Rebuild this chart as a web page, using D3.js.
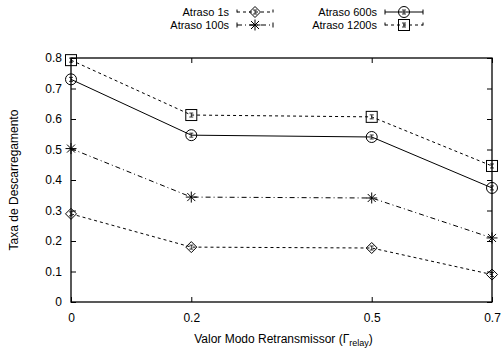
<!DOCTYPE html>
<html>
<head>
<meta charset="utf-8">
<script src="https://cdn.jsdelivr.net/npm/d3@7"></script>
<style>
  body { margin: 0; background: #fff; }
  svg { font-family: "Liberation Sans", Arial, sans-serif; }
</style>
</head>
<body>
<svg id="chart" width="504" height="351"></svg>
<script>
// chart data
const xValues = [0, 0.2, 0.5, 0.7];
const xTicks = [0, 0.2, 0.5, 0.7];
const yTicks = [0, 0.1, 0.2, 0.3, 0.4, 0.5, 0.6, 0.7, 0.8];
const seriesNames = ['Atraso 1s', 'Atraso 100s', 'Atraso 600s', 'Atraso 1200s'];
const atraso1s = [0.289, 0.180, 0.177, 0.090];
const atraso100s = [0.503, 0.344, 0.341, 0.210];
const atraso600s = [0.730, 0.547, 0.541, 0.374];
const atraso1200s = [0.793, 0.613, 0.607, 0.446];

const styles = [
    {dash: '3,3', marker: 'diamond'},
    {dash: '5,3,1,3', marker: 'star'},
    {dash: null, marker: 'circle'},
    {dash: '3,3', marker: 'square'}
];
const allSeries = [atraso1s, atraso100s, atraso600s, atraso1200s];

const svg = d3.select('#chart');
const margin = {left: 71, right: 12, top: 58, bottom: 49};
const W = 504, H = 351;

const xScale = d3.scaleLinear().domain([0, 0.7]).range([margin.left, W - margin.right]);
const yScale = d3.scaleLinear().domain([0, 0.8]).range([H - margin.bottom, margin.top]);

function drawMarker(g, type, x, y) {
    const m = g.append('g').attr('transform', `translate(${x},${y})`)
        .attr('fill', 'none').attr('stroke', '#000').attr('stroke-width', 1);
    if (type === 'diamond') {
        m.append('path').attr('d', 'M0,-5.5L5.5,0L0,5.5L-5.5,0Z');
    } else if (type === 'circle') {
        m.append('circle').attr('r', 5.5);
    } else if (type === 'square') {
        m.append('rect').attr('x', -5.5).attr('y', -5.5).attr('width', 11).attr('height', 11);
    } else if (type === 'star') {
        m.append('path').attr('d', 'M-5.5,0H5.5M0,-5.5V5.5M-4,-4L4,4M-4,4L4,-4');
    }
    // tiny error bar
    if (type !== 'star') {
        m.append('path').attr('d', 'M0,-2V2M-2,-2H2M-2,2H2').attr('stroke-width', 0.8);
    }
}

// frame
svg.append('rect')
    .attr('x', margin.left).attr('y', margin.top)
    .attr('width', W - margin.left - margin.right)
    .attr('height', H - margin.top - margin.bottom)
    .attr('fill', 'none').attr('stroke', '#000').attr('stroke-width', 1.3);

const tickLen = 5;
const axisLeft = d3.axisLeft(yScale).tickValues(yTicks).tickSize(-tickLen).tickPadding(9)
    .tickFormat(d => d === 0 ? '0' : d3.format('.1f')(d));
const axisRight = d3.axisRight(yScale).tickValues(yTicks).tickSize(-tickLen).tickFormat('');
const axisBottom = d3.axisBottom(xScale).tickValues(xTicks).tickSize(-tickLen).tickPadding(11)
    .tickFormat(d => d === 0 ? '0' : d3.format('.1f')(d));
const axisTop = d3.axisTop(xScale).tickValues(xTicks).tickSize(-tickLen).tickFormat('');

function styleAxis(g) {
    g.select('.domain').remove();
    g.selectAll('.tick line').attr('stroke', '#000');
    g.selectAll('.tick text').attr('font-size', 12).attr('fill', '#000')
        .attr('font-family', '"Liberation Sans", Arial, sans-serif');
}

svg.append('g').attr('transform', `translate(${margin.left},0)`).call(axisLeft).call(styleAxis);
svg.append('g').attr('transform', `translate(${W - margin.right},0)`).call(axisRight).call(styleAxis);
svg.append('g').attr('transform', `translate(0,${H - margin.bottom})`).call(axisBottom).call(styleAxis);
svg.append('g').attr('transform', `translate(0,${margin.top})`).call(axisTop).call(styleAxis);

// axis labels
svg.append('text')
    .attr('transform', `translate(18,${(margin.top + H - margin.bottom) / 2}) rotate(-90)`)
    .attr('text-anchor', 'middle').attr('font-size', 12)
    .text('Taxa de Descarregamento');

const xl = svg.append('text')
    .attr('x', (margin.left + W - margin.right) / 2 + 2).attr('y', 343)
    .attr('text-anchor', 'middle').attr('font-size', 12);
xl.append('tspan').text('Valor Modo Retransmissor (\u0393');
xl.append('tspan').attr('font-size', 9).attr('dy', 3).text('relay');
xl.append('tspan').attr('dy', -3).text(')');

// lines and points
const line = d3.line().x((d, i) => xScale(xValues[i])).y(d => yScale(d));
const plot = svg.append('g');
allSeries.forEach((vals, si) => {
    const p = plot.append('path')
        .datum(vals)
        .attr('d', line)
        .attr('fill', 'none')
        .attr('stroke', '#000')
        .attr('stroke-width', 1);
    if (styles[si].dash) p.attr('stroke-dasharray', styles[si].dash);
    vals.forEach((v, i) => drawMarker(plot, styles[si].marker, xScale(xValues[i]), yScale(v)));
});

// legend
const legendPos = [
    {textX: 229, x1: 237, x2: 273, y: 12},
    {textX: 229, x1: 237, x2: 273, y: 25},
    {textX: 377, x1: 385, x2: 423, y: 12},
    {textX: 377, x1: 385, x2: 423, y: 25}
];
seriesNames.forEach((name, si) => {
    const lp = legendPos[si];
    const lg = svg.append('g');
    lg.append('text')
        .attr('x', lp.textX).attr('y', lp.y + 4)
        .attr('text-anchor', 'end').attr('font-size', 11)
        .text(name);
    const ln = lg.append('path')
        .attr('d', `M${lp.x1},${lp.y}H${lp.x2}M${lp.x1},${lp.y - 2.5}V${lp.y + 2.5}M${lp.x2},${lp.y - 2.5}V${lp.y + 2.5}`)
        .attr('stroke', '#000').attr('stroke-width', 1).attr('fill', 'none');
    if (styles[si].dash) ln.attr('stroke-dasharray', styles[si].dash);
    drawMarker(lg, styles[si].marker, (lp.x1 + lp.x2) / 2, lp.y);
});
</script>
</body>
</html>
